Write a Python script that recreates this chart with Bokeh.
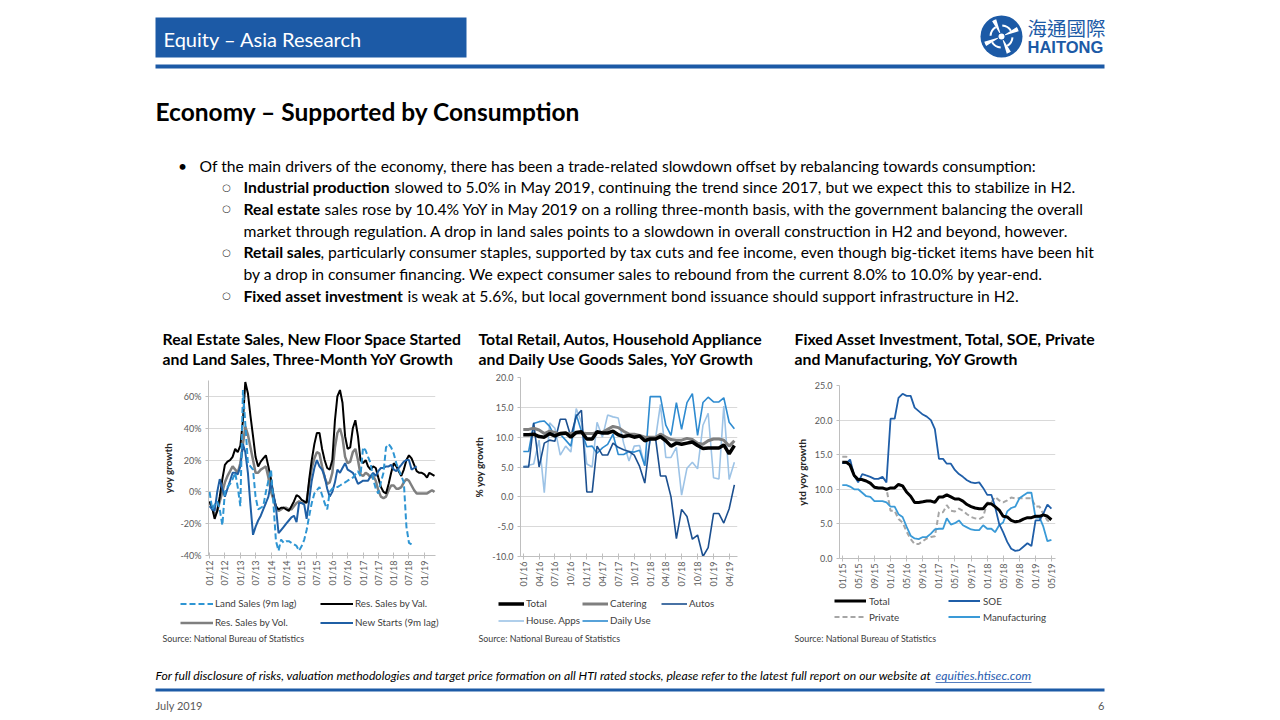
import numpy as np
import pandas as pd
from bokeh.plotting import figure
from bokeh.models import (Range1d, Legend, LegendItem, FixedTicker, PrintfTickFormatter,
                          DatetimeTickFormatter, MonthsTicker, Spacer, ColumnDataSource)
from bokeh.layouts import column, row
from bokeh.core.properties import value
from bokeh.embed import file_html
from bokeh.resources import INLINE

FONT = "Lato"
BLUE = "#1c5aa6"

# ---------------- Chart 1: real estate, monthly from 01/2012 ----------------
c1_start = "2012-01-01"
c1_tick_months = [0, 6]          # BokehJS months are 0-based (0 = January)
c1_yticks = [-40, -20, 0, 20, 40, 60]
c1_labels = ["Land Sales (9m lag)", "Res. Sales by Val.", "Res. Sales by Vol.", "New Starts (9m lag)"]
res_val = [-6, -10, -17, -12, -3, 8, 17, 19, 20, 22,
           27, 25, 29, 45, 69, 62, 48, 35, 22, 16,
           19, 21, 23, 16, 8, -3, -9, -11, -10, -10,
           -11, -12, -9, -6, -2, -3, -5, -6, -7, 8,
           20, 30, 37, 37, 27, 20, 15, 14, 20, 45,
           60, 64, 56, 35, 27, 28, 40, 45, 35, 20,
           18, 20, 16, 14, 16, 15, 9, 3, 0, -1,
           5, 12, 18, 16, 13, 10, 14, 20, 23, 21,
           17, 13, 12, 12, 11, 9, 12, 11, 10]
res_vol = [-7, -10, -15, -12, -6, 0, 6, 10, 13, 16,
           14, 12, 18, 30, 41, 36, 28, 20, 12, 12,
           14, 15, 16, 9, 0, -5, -10, -12, -11, -10,
           -10, -11, -11, -9, -7, -6, -7, -7, -6, 5,
           15, 21, 25, 24, 16, 9, 5, 6, 12, 28,
           37, 40, 34, 22, 18, 19, 25, 27, 20, 11,
           10, 12, 11, 9, 10, 7, 1, -3, -4, -3,
           1, 4, 4, 2, 2, 3, 6, 8, 7, 4,
           1, -1, -1, -1, -1, -1, 0, 1, 0]
new_starts = [-9, -11, -12, 0, 8, 2, -3, 2, 7, 12,
              12, 11, 16, 30, 25, 12, -8, -27, -22, -18,
              -15, -11, -7, -3, 6, -2, -10, -26, -24, -22,
              -20, -18, -16, -15, -19, -7, -7, -8, -17, -5,
              7, 15, 20, 16, 14, 10, 2, -3, 0, 6,
              14, 12, 15, 18, 14, 13, 12, 9, 5, 6,
              7, 7, 7, 10, 12, 10, 13, 15, 15, 16,
              16, 17, 14, 13, 15, 17, 19, 20, 20, 14,
              15, 16]
land_sales = [0, -11, -8, -6, -11, -21, 0, 3, 5, 8,
              12, 3, -9, 64, 43, 18, 16, 14, -3, -11,
              -10, -9, 0, 7, 14, -9, -31, -37, -30, -32,
              -31, -31, -32, -33, -34, -37, -34, -30, -24, -15,
              -7, -1, 1, 3, -2, -7, -11, 0, 2, 3,
              3, 4, 5, 6, 7, 8, 9, 11, 13, 10,
              28, 26, 22, 18, 8, 2, -1, 6, 12, 28,
              30, 28, 24, 18, 14, 10, 6, -22, -32, -33]

# ---------------- Chart 2: retail, monthly from 01/2016 ----------------
c2_start = "2016-01-01"
c2_tick_months = [0, 3, 6, 9]
c2_yticks = [-10, -5, 0, 5, 10, 15, 20]
c2_labels = ["Total", "Catering", "Autos", "House. Apps", "Daily Use"]
retail_total = [10.4, 10.4, 10.5, 10.1, 10.0, 10.6, 10.2, 10.6, 10.7, 10.0, 10.8, 10.9,
                9.7, 9.7, 10.9, 10.7, 10.7, 11.0, 10.4, 10.1, 10.3, 10.0, 10.2, 9.4,
                9.7, 9.7, 10.1, 9.4, 8.5, 9.0, 8.8, 9.0, 9.2, 8.6, 8.1, 8.2,
                8.2, 8.2, 8.7, 7.2, 8.6]
catering = [11.3, 11.3, 11.5, 11.2, 10.6, 11.0, 10.8, 10.5, 10.6, 10.6, 10.7, 10.7,
            10.6, 10.6, 10.8, 10.8, 11.3, 11.8, 11.6, 11.0, 10.5, 10.5, 10.3, 10.0,
            10.0, 10.0, 10.5, 10.0, 9.6, 9.5, 9.5, 9.8, 9.6, 9.0, 8.8, 9.4,
            9.7, 9.7, 9.5, 8.5, 9.4]
autos = [5.0, 5.0, 12.4, 5.0, 9.0, 9.5, 9.3, 13.0, 13.0, 10.1, 13.5, 14.5,
         0.8, 0.8, 8.5, 7.0, 7.0, 9.0, 8.3, 7.9, 7.6, 7.0, 5.1, 2.3,
         9.8, 9.8, 3.5, 3.5, 0.0, -7.0, -2.1, -3.3, -7.1, -6.4, -10.0, -8.5,
         -2.8, -2.8, -4.4, -2.0, 2.0]
house_apps = [5.1, 5.3, 5.5, 9.5, 0.7, 12.4, 11.5, 7.0, 8.5, 7.5, 14.8, 12.5,
              5.5, 5.0, 12.5, 10.0, 13.7, 13.4, 13.2, 9.0, 6.0, 8.5, 8.6, 5.2,
              9.5, 9.8, 15.5, 6.6, 6.6, 8.3, 0.3, 4.8, 5.8, 4.7, 12.0, 14.0,
              3.2, 3.0, 15.2, 2.9, 5.8]
daily_use = [7.6, 7.6, 12.3, 12.6, 12.7, 11.8, 10.0, 10.5, 9.5, 8.5, 13.8, 11.0,
             8.4, 8.5, 7.3, 8.2, 8.8, 10.5, 7.1, 7.1, 7.6, 7.5, 7.8, 5.2,
             16.8, 16.8, 16.8, 12.0, 10.3, 15.8, 11.3, 15.8, 17.3, 10.3, 15.8, 16.7,
             15.9, 15.9, 16.6, 12.5, 11.4]

# ---------------- Chart 3: fixed asset investment, monthly from 01/2015 ----------------
c3_start = "2015-01-01"
c3_tick_months = [0, 4, 8]
c3_yticks = [0, 5, 10, 15, 20, 25]
c3_labels = ["Total", "SOE", "Private", "Manufacturing"]
fai_total = [13.9, 13.9, 13.5, 12.0, 11.4, 11.4, 11.2, 10.9, 10.3, 10.2, 10.2, 10.0,
             10.2, 10.2, 10.7, 10.5, 9.6, 9.0, 8.1, 8.1, 8.2, 8.3, 8.3, 8.1,
             8.9, 8.9, 9.2, 8.9, 8.6, 8.6, 8.3, 7.8, 7.5, 7.3, 7.2, 7.2,
             7.9, 7.9, 7.5, 7.0, 6.1, 6.0, 5.5, 5.3, 5.4, 5.7, 5.9, 5.9,
             6.1, 6.1, 6.3, 6.1, 5.6]
fai_soe = [13.8, 13.8, 14.3, 12.0, 11.0, 12.2, 12.0, 11.8, 11.5, 11.5, 11.8, 11.0,
           20.2, 20.2, 23.2, 23.8, 23.5, 23.5, 21.8, 21.3, 20.8, 20.5, 20.0, 18.7,
           14.4, 14.4, 13.7, 13.7, 12.8, 12.2, 11.8, 11.3, 11.0, 10.9, 11.0, 10.2,
           9.2, 9.2, 7.5, 5.0, 3.8, 2.4, 1.4, 1.1, 1.2, 1.7, 2.2, 1.8,
           5.5, 5.5, 6.5, 7.8, 7.2]
fai_private = [14.7, 14.7, 14.0, 12.0, 11.5, 11.3, 11.1, 10.8, 10.4, 10.2, 10.1, 10.1,
               6.9, 6.9, 5.7, 5.2, 3.9, 2.8, 2.1, 2.1, 2.5, 2.9, 3.1, 3.2,
               6.7, 6.7, 7.7, 6.9, 6.8, 7.2, 6.9, 6.4, 6.0, 5.8, 5.7, 6.0,
               8.1, 8.1, 8.9, 8.4, 8.1, 8.4, 8.8, 8.7, 8.7, 8.7, 8.7, 8.7,
               7.5, 7.5, 6.4, 5.5, 5.3]
fai_manuf = [10.6, 10.6, 10.4, 10.0, 10.0, 9.5, 9.0, 8.9, 8.3, 8.3, 8.3, 8.1,
             7.5, 7.5, 6.4, 6.0, 4.6, 3.3, 2.9, 2.8, 3.1, 3.1, 3.6, 4.2,
             4.3, 4.3, 5.8, 4.9, 5.1, 5.5, 4.8, 4.5, 4.2, 4.1, 4.1, 4.8,
             4.3, 4.3, 3.8, 4.8, 5.2, 6.8, 7.3, 7.5, 8.7, 9.1, 9.5, 9.5,
             5.9, 5.9, 4.6, 2.5, 2.7]

# ---------------- slide texts ----------------
header_text = "Equity \u2013 Asia Research"
slide_title = "Economy \u2013 Supported by Consumption"
bullet_main = ("Of the main drivers of the economy, there has been a trade-related slowdown "
               "offset by rebalancing towards consumption:")
sub_lines = [
    ("Industrial production", "slowed to 5.0% in May 2019, continuing the trend since 2017, but we expect this to stabilize in H2."),
    ("Real estate", "sales rose by 10.4% YoY in May 2019 on a rolling three-month basis, with the government balancing the overall"),
    ("", "market through regulation. A drop in land sales points to a slowdown in overall construction in H2 and beyond, however."),
    ("Retail sales", ", particularly consumer staples, supported by tax cuts and fee income, even though big-ticket items have been hit"),
    ("", "by a drop in consumer financing. We expect consumer sales to rebound from the current 8.0% to 10.0% by year-end."),
    ("Fixed asset investment", "is weak at 5.6%, but local government bond issuance should support infrastructure in H2."),
]
chart_titles = [
    ("Real Estate Sales, New Floor Space Started", "and Land Sales, Three-Month YoY Growth"),
    ("Total Retail, Autos, Household Appliance", "and Daily Use Goods Sales, YoY Growth"),
    ("Fixed Asset Investment, Total, SOE, Private", "and Manufacturing, YoY Growth"),
]
source_text = "Source: National Bureau of Statistics"
footer_text = ("For full disclosure of risks, valuation methodologies and target price formation on all "
               "HTI rated stocks, please refer to the latest full report on our website at")
footer_link = "equities.htisec.com"

# line styles per series
ST = {
    "land": dict(color="#2e95d3", line_width=2, line_dash="6 3"),
    "val": dict(color="#000000", line_width=2),
    "vol": dict(color="#7f7f7f", line_width=2.5),
    "new": dict(color="#1f5fa5", line_width=2),
    "total2": dict(color="#000000", line_width=3.5),
    "cater": dict(color="#7f7f7f", line_width=3),
    "autos": dict(color="#1b4f8f", line_width=1.6),
    "house": dict(color="#9dc3e6", line_width=1.6),
    "daily": dict(color="#2e8bd0", line_width=1.6),
    "total3": dict(color="#000000", line_width=3),
    "soe": dict(color="#1f5ea8", line_width=1.8),
    "priv": dict(color="#a6a6a6", line_width=2, line_dash="5 3"),
    "manuf": dict(color="#3a9ad7", line_width=1.8),
}


def months(start, n):
    return pd.date_range(start, periods=n, freq="MS")


def page_fig(w, h, ytop, ybot):
    p = figure(width=w, height=h, x_range=Range1d(0, w), y_range=Range1d(ybot, ytop),
               output_backend="svg", toolbar_location=None, min_border=0,
               x_axis_location=None, y_axis_location=None)
    p.grid.visible = False
    p.outline_line_color = None
    return p


def txt(p, x, y, s, size, color="#000000", style="normal", align="left", font=FONT):
    p.text(x=[x], y=[y], text=[s], text_font=value(font), text_font_size=value(size),
           text_font_style=style, text_color=color, text_align=align, text_baseline="middle")


# ---------------- top figure (page y 0..370) ----------------
top = page_fig(1264, 370, 0, 370)
top.quad(left=[155], right=[466], top=[17], bottom=[57], fill_color=BLUE, line_color=None)
txt(top, 163, 38, header_text, "20px", color="white")
top.quad(left=[155], right=[1104], top=[64], bottom=[68], fill_color=BLUE, line_color=None)
# logo emblem
cx, cy = 1001, 36
top.circle(x=[cx], y=[cy], radius=21, fill_color=BLUE, line_color=None)
top.annular_wedge(x=[cx] * 4, y=[cy] * 4, inner_radius=4, outer_radius=18,
                  start_angle=[0.3, 1.87, 3.44, 5.01], end_angle=[0.55, 2.12, 3.69, 5.26],
                  fill_color="white", line_color=None)
top.annular_wedge(x=[cx] * 4, y=[cy] * 4, inner_radius=10, outer_radius=12,
                  start_angle=[0.55, 2.12, 3.69, 5.26], end_angle=[1.5, 3.07, 4.64, 6.21],
                  fill_color="white", line_color=None)
top.circle(x=[cx], y=[cy], radius=3, fill_color="white", line_color=None)
txt(top, 1027, 27, "海通國際", "19.5px", color=BLUE, font="Noto Sans CJK TC")
txt(top, 1027, 46, "HAITONG", "16.5px", color=BLUE, style="bold", font="Liberation Sans")

txt(top, 155, 111, slide_title, "24.5px", style="bold")

BODY = "15.7px"
y0, dy = 165, 21.7
txt(top, 182, y0, "\u2022", BODY, align="center")
txt(top, 199, y0, bullet_main, BODY)
bold_ends = {"Industrial production": 394, "Real estate": 324, "Retail sales": 320,
             "Fixed asset investment": 407}
for i, (b, rest) in enumerate(sub_lines):
    y = y0 + dy * (i + 1)
    if b:
        txt(top, 226, y, "\u25cb", "10px", color="#404040", align="center", font="DejaVu Sans")
        txt(top, 243, y, b, BODY, style="bold")
        txt(top, bold_ends[b], y, rest, BODY)
    else:
        txt(top, 243, y, rest, BODY)

for (l1, l2), x in zip(chart_titles, [162, 478, 794]):
    txt(top, x, 338, l1, "15.8px", style="bold")
    txt(top, x, 358, l2, "15.8px", style="bold")


# ---------------- chart figures (page y 370..595) ----------------
def make_chart(width, height, xr, yr, borders, yticks, yfmt, tick_months, ylabel):
    ml, mr, mt, mb = borders
    p = figure(width=width, height=height, x_axis_type="datetime",
               x_range=Range1d(pd.Timestamp(xr[0]), pd.Timestamp(xr[1])),
               y_range=Range1d(*yr), output_backend="svg", toolbar_location=None,
               min_border_left=ml, min_border_right=mr, min_border_top=mt, min_border_bottom=mb)
    p.outline_line_color = None
    p.xgrid.visible = False
    p.ygrid.grid_line_color = "#d9d9d9"
    p.yaxis.ticker = FixedTicker(ticks=yticks)
    p.yaxis.formatter = PrintfTickFormatter(format=yfmt)
    p.xaxis.ticker = MonthsTicker(months=tick_months)
    p.xaxis.formatter = DatetimeTickFormatter(months="%m/%y", years="%m/%y", days="%m/%y")
    p.xaxis.major_label_orientation = np.pi / 2
    for ax in (p.xaxis[0], p.yaxis[0]):
        ax.axis_line_color = "#bfbfbf"
        ax.major_tick_line_color = "#bfbfbf"
        ax.minor_tick_line_color = None
        ax.major_label_text_font = FONT
        ax.major_label_text_font_size = "9px"
        ax.major_label_text_color = "#595959"
    p.xaxis.major_tick_in = 3
    p.xaxis.major_tick_out = 3
    p.xaxis.major_label_standoff = 2
    p.yaxis.major_tick_in = 0
    p.yaxis.major_tick_out = 3
    p.yaxis.major_label_standoff = 4
    p.yaxis.axis_label = ylabel
    p.yaxis.axis_label_text_font = FONT
    p.yaxis.axis_label_text_font_size = "10px"
    p.yaxis.axis_label_text_font_style = "bold"
    p.yaxis.axis_label_text_color = "#262626"
    p.yaxis.axis_label_standoff = 4
    return p


def legend_fig(width, labels, keys, sources, loc, ncols, gw, gh, lw, standoff, spacing):
    """A strip under a chart that holds that chart's legend; its lines share the
    chart's data sources but lie outside this strip's ranges, so only the legend shows."""
    lf = figure(width=width, height=37, x_range=Range1d(0, 1), y_range=Range1d(0, 1),
                output_backend="svg", toolbar_location=None, min_border=0,
                x_axis_location=None, y_axis_location=None)
    lf.grid.visible = False
    lf.outline_line_color = None
    items = []
    for lab, k in zip(labels, keys):
        r = lf.line("x", "y", source=sources[k], **ST[k])
        items.append(LegendItem(label=lab, renderers=[r]))
    leg = Legend(items=items, location=loc, orientation="horizontal", ncols=ncols,
                 glyph_width=gw, glyph_height=gh, label_height=gh, label_width=lw,
                 label_standoff=standoff, spacing=spacing, padding=0, margin=0,
                 label_text_font=FONT, label_text_font_size="9.8px", label_text_color="#404040",
                 border_line_color=None, background_fill_alpha=0)
    lf.add_layout(leg)
    return lf


def src(start, vals):
    return ColumnDataSource(dict(x=months(start, len(vals)), y=vals))


SRC = {
    "land": src(c1_start, land_sales), "val": src(c1_start, res_val),
    "vol": src(c1_start, res_vol), "new": src(c1_start, new_starts),
    "total2": src(c2_start, retail_total), "cater": src(c2_start, catering),
    "autos": src(c2_start, autos), "house": src(c2_start, house_apps),
    "daily": src(c2_start, daily_use),
    "total3": src(c3_start, fai_total), "soe": src(c3_start, fai_soe),
    "priv": src(c3_start, fai_private), "manuf": src(c3_start, fai_manuf),
}

HC = 225
# chart 1
f1 = make_chart(316, HC, ("2011-12-19", "2019-05-13"), (-40, 70), (54, 35, 10, 40),
                c1_yticks, "%d%%", c1_tick_months, "yoy growth")
for k in ["vol", "val", "new", "land"]:
    f1.line("x", "y", source=SRC[k], **ST[k])
l1 = legend_fig(316, c1_labels, ["land", "val", "vol", "new"], SRC, (26, 2.5), 2,
                33, 15, 101, 2, 4)

# chart 2
f2 = make_chart(316, HC, ("2015-12-16", "2019-05-19"), (-10, 20), (49, 49, 7, 39),
                c2_yticks, "%.1f", c2_tick_months, "% yoy growth")
for k in ["house", "daily", "autos", "cater", "total2"]:
    f2.line("x", "y", source=SRC[k], **ST[k])
l2 = legend_fig(316, c2_labels, ["total2", "cater", "autos", "house", "daily"], SRC, (28, 4.5), 3,
                26, 15, 49, 2, 2)

# chart 3
f3 = make_chart(330, HC, ("2014-12-11", "2019-06-01"), (0, 25), (53, 61, 15, 37),
                c3_yticks, "%.1f", c3_tick_months, "ytd yoy growth")
for k in ["priv", "manuf", "soe", "total3"]:
    f3.line("x", "y", source=SRC[k], **ST[k])
l3 = legend_fig(330, c3_labels, ["total3", "soe", "priv", "manuf"], SRC, (48, 9.5), 2,
                32, 11, 75, 3, 4)

# ---------------- bottom figure (page y 632..712) ----------------
bot = page_fig(1264, 80, 632, 712)
for x in [162, 478, 794]:
    txt(bot, x, 638, source_text, "8.9px", color="#404040")
txt(bot, 155, 675, footer_text, "12.2px", style="italic")
txt(bot, 935, 675, footer_link, "12.2px", color="#2a5db0", style="italic")
bot.segment(x0=[935], y0=[682], x1=[1031], y1=[682], line_color="#2a5db0", line_width=0.8)
bot.quad(left=[155], right=[1104], top=[688], bottom=[691], fill_color=BLUE, line_color=None)
txt(bot, 155, 705, "July 2019", "11px", color="#595959")
txt(bot, 1104, 705, "6", "11px", color="#595959", align="right")

# each chart is wrapped on its own so that the row does not align the three plot frames
layout = column(top,
                row(Spacer(width=154, height=HC), column(f1), column(f2), column(f3),
                    Spacer(width=148, height=HC)),
                row(Spacer(width=154, height=37), l1, l2, l3, Spacer(width=148, height=37)),
                bot)

open("out.html", "w").write(file_html(layout, INLINE))
